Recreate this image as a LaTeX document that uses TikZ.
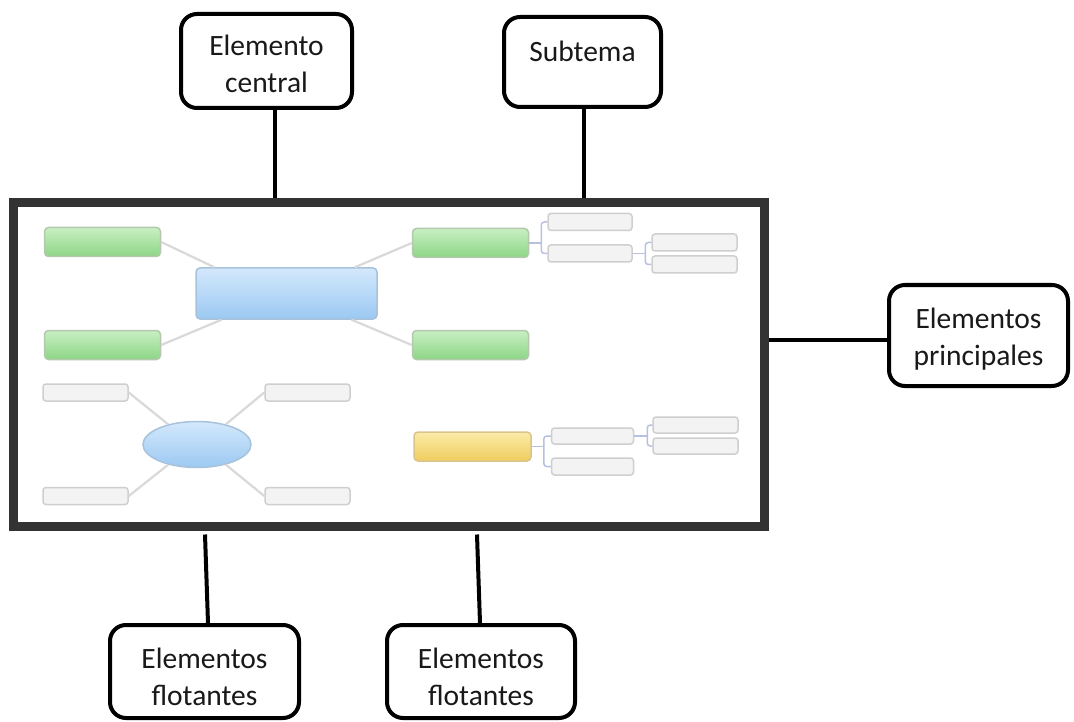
\documentclass[tikz,border=0pt]{standalone}
\usepackage{fontspec}
\setmainfont{Carlito}
\usetikzlibrary{calc,shapes.geometric}
\definecolor{framecol}{HTML}{333333}
\definecolor{gtop}{HTML}{C8EFC2}
\definecolor{gbot}{HTML}{8DD686}
\definecolor{gdraw}{HTML}{B3C8AD}
\definecolor{btop}{HTML}{D3E8FC}
\definecolor{bbot}{HTML}{9CC9F2}
\definecolor{bdraw}{HTML}{A9C2DC}
\definecolor{ytop}{HTML}{FBEBA9}
\definecolor{ybot}{HTML}{EFCD5E}
\definecolor{ydraw}{HTML}{D9C58C}
\definecolor{wfill}{HTML}{F3F3F3}
\definecolor{wdraw}{HTML}{CFCFCF}
\definecolor{mmline}{HTML}{D9D9D9}
\definecolor{brkcol}{HTML}{B8C0E2}
\begin{document}
\begin{tikzpicture}[x=1pt,y=-1pt,
  callout/.style={draw=black, line width=4pt, rounded corners=16pt, inner sep=0pt, fill=white},
  ctext/.style={font=\fontsize{29.5}{37}\selectfont, align=center, inner sep=0pt, text=black!90},
  conn/.style={draw=black, line width=4pt},
  mmbox/.style={inner sep=0pt, rounded corners=4pt, line width=1.5pt},
  green/.style={mmbox, draw=gdraw, top color=gtop, bottom color=gbot, minimum width=116pt, minimum height=29pt},
  yellowbox/.style={mmbox, draw=ydraw, top color=ytop, bottom color=ybot, minimum width=117pt, minimum height=29pt},
  wbox/.style={mmbox, rounded corners=3pt, draw=wdraw, fill=wfill, minimum width=83pt, minimum height=17pt},
  mml/.style={draw=mmline, line width=2.2pt},
  brk/.style={draw=brkcol, line width=1.5pt, rounded corners=3pt}
]
\useasboundingbox (0,0) rectangle (1074,722);
\fill[white] (0,0) rectangle (1074,722);

% screenshot frame
\node[draw=framecol, line width=9pt, fill=white, inner sep=0pt,
      minimum width=751pt, minimum height=323.5pt] (frame) at (388.5,364.25) {};

% central topic and main elements
\node[mmbox, draw=bdraw, top color=btop, bottom color=bbot,
      minimum width=181pt, minimum height=51pt] (blue) at (286.5,293.5) {};
\node[green] (g1) at (102.5,242) {};
\node[green] (g2) at (102.5,345) {};
\node[green] (g3) at (470.5,243) {};
\node[green] (g4) at (470.5,345) {};
\draw[mml] (g1.east) -- (blue.160);
\draw[mml] (g2.east) -- (blue.202);
\draw[mml] (g3.west) -- (blue.21);
\draw[mml] (g4.west) -- (blue.338);

% subtopics
\node[wbox, minimum width=84pt] (wa) at (590,222) {};
\node[wbox, minimum width=84pt] (wb) at (590,253.5) {};
\node[wbox, minimum width=85pt] (wc) at (694.5,242.5) {};
\node[wbox, minimum width=85pt] (wd) at (694.5,264.5) {};
\path ($(wa.west)+(-6,0)$) coordinate (bk1);
\draw[brk] (wa.west) -- (bk1) |- (wb.west);
\draw[brk] (g3.east) -- (g3.east -| bk1);
\path ($(wc.west)+(-6,0)$) coordinate (bk2);
\draw[brk] (wc.west) -- (bk2) |- (wd.west);
\draw[brk] (wb.east) -- (wb.east -| bk2);

% floating topic (ellipse)
\node[ellipse, inner sep=0pt, line width=1.5pt, draw=bdraw, top color=btop, bottom color=bbot,
      minimum width=108pt, minimum height=46pt] (ell) at (197,444.5) {};
\node[wbox, minimum width=85pt] (we) at (85.5,392.5) {};
\node[wbox, minimum width=85pt] (wf) at (85.5,496) {};
\node[wbox, minimum width=85pt] (wg) at (307.5,392.5) {};
\node[wbox, minimum width=85pt] (wh) at (307.5,496) {};
\draw[mml] (we.east) -- (ell.145);
\draw[mml] (wg.west) -- (ell.35);
\draw[mml] (wf.east) -- (ell.215);
\draw[mml] (wh.west) -- (ell.325);

% floating topic (yellow)
\node[yellowbox] (yl) at (472.5,446.5) {};
\node[wbox, minimum width=82pt, minimum height=16pt] (wi) at (592.5,436) {};
\node[wbox, minimum width=82pt, minimum height=17pt] (wj) at (592.5,466.5) {};
\node[wbox, minimum width=85pt, minimum height=16pt] (wk) at (695.5,425) {};
\node[wbox, minimum width=85pt, minimum height=16pt] (wl) at (695.5,446) {};
\path ($(wi.west)+(-7,0)$) coordinate (bk3);
\draw[brk] (wi.west) -- (bk3) |- (wj.west);
\draw[brk] (yl.east) -- (yl.east -| bk3);
\path ($(wk.west)+(-5,0)$) coordinate (bk4);
\draw[brk] (wk.west) -- (bk4) |- (wl.west);
\draw[brk] (wi.east) -- (wi.east -| bk4);

% callouts
\node[callout, minimum width=171pt, minimum height=94pt,
      label={[ctext,yshift=-3pt]center:Elemento\\central}] (ec) at (266.5,61) {};
\node[callout, minimum width=157pt, minimum height=90pt,
      label={[ctext,yshift=11pt]center:Subtema}] (st) at (582.5,62) {};
\node[callout, minimum width=179pt, minimum height=101pt,
      label={[ctext,yshift=-4pt]center:Elementos\\principales}] (pr) at (978.5,335.5) {};
\node[callout, minimum width=189pt, minimum height=93pt,
      label={[ctext,yshift=-5pt]center:Elementos\\flotantes}] (fl1) at (204.5,671.5) {};
\node[callout, minimum width=188pt, minimum height=93pt,
      label={[ctext,yshift=-5pt]center:Elementos\\flotantes}] (fl2) at (481,671.5) {};

% connectors
\path ($(ec.south)+(8.5,0)$) coordinate (ecj);
\draw[conn] (ecj) -- (frame.north -| ecj);
\path ($(st.south)+(1.5,0)$) coordinate (stj);
\draw[conn] (stj) -- (frame.north -| stj);
\path ($(pr.west)+(0,4.5)$) coordinate (prj);
\draw[conn] (prj) -- (frame.east |- prj);
\draw[conn] ($(frame.south -| fl1.north)+(0.5,4)$) -- ($(fl1.north)+(3.5,0)$);
\draw[conn] ($(frame.south -| fl2.north)+(-4,4)$) -- ($(fl2.north)+(-1,0)$);
\end{tikzpicture}
\end{document}
